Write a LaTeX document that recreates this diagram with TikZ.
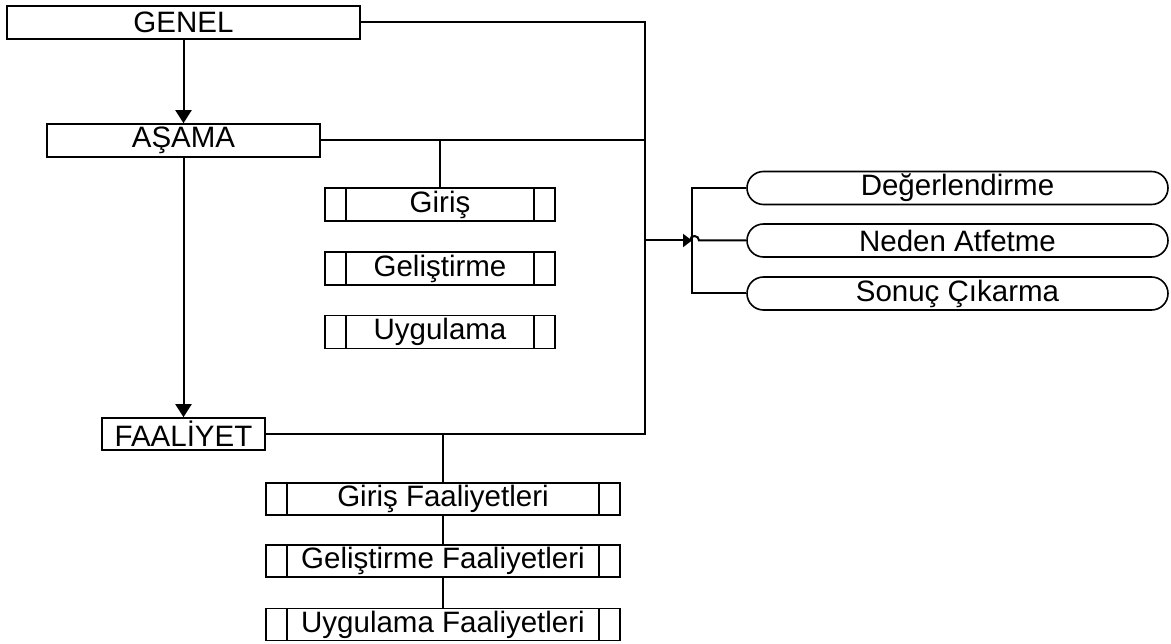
\documentclass[tikz,border=0pt]{standalone}
\usepackage{fontspec}
\setmainfont{Liberation Sans}
\usetikzlibrary{arrows.meta}

\tikzset{
  box/.style = {draw, line width = 1.6pt, inner sep = 0pt, minimum height = 33pt,
    font = \fontsize{29.5}{34}\selectfont},
  subbox/.style = {box, path picture = {
      \draw [line width = 1.6pt] ([xshift = 21pt]path picture bounding box.north west)
        -- ([xshift = 21pt]path picture bounding box.south west);
      \draw [line width = 1.6pt] ([xshift = -21pt]path picture bounding box.north east)
        -- ([xshift = -21pt]path picture bounding box.south east);}},
  roundbox/.style = {box, rounded corners = 16.5pt, minimum width = 421pt},
  link/.style = {line width = 2pt},
  tip/.style = {-{Triangle[length = 13pt, width = 16pt]}},
  smalltip/.style = {-{Triangle[length = 9pt, width = 13pt]}}
}

\begin{document}
\begin{tikzpicture}[x = 1pt, y = -1pt]
  \useasboundingbox (0, 0) rectangle (1171, 644);

  % left column
  \node [box, minimum width = 353pt] (genel) at (183.5, 22.5) {GENEL};
  \node [box, minimum width = 273pt] (asama) at (183.5, 140.5) {AŞAMA};
  \node [box, minimum width = 163pt, minimum height = 32pt] (faaliyet) at (183.5, 434) {FAALİYET};

  % stages
  \node [subbox, minimum width = 230pt] (giris) at (440, 204.5) {Giriş};
  \node [subbox, minimum width = 230pt] (gelistirme) at (440, 268.5) {Geliştirme};
  \node [subbox, minimum width = 230pt] (uygulama) at (440, 332) {Uygulama};

  % activities
  \node [subbox, minimum width = 354pt, minimum height = 32pt] (girisf) at (443, 499) {Giriş Faaliyetleri};
  \node [subbox, minimum width = 354pt, minimum height = 32pt] (gelistirmef) at (443, 561) {Geliştirme Faaliyetleri};
  \node [subbox, minimum width = 354pt, minimum height = 32pt] (uygulamaf) at (443, 624.5) {Uygulama Faaliyetleri};

  % right column
  \node [roundbox] (deger) at (957.5, 188) {Değerlendirme};
  \node [roundbox] (neden) at (957.5, 240.5) {Neden Atfetme};
  \node [roundbox] (sonuc) at (957.5, 293.5) {Sonuç Çıkarma};

  \coordinate (bus) at (645, 0);
  \coordinate (fork) at (692, 240.5);

  \draw [link, tip] (genel) -- (asama);
  \draw [link, tip] (asama) -- (faaliyet);

  \draw [link] (genel.east) -| (bus |- faaliyet.east) -- (faaliyet.east);
  \draw [link] (asama.east) -- (bus |- asama.east);
  \draw [link] (giris.north |- asama.east) -- (giris.north);
  \draw [link] (girisf.north |- faaliyet.east) -- (girisf.north);
  \draw [link] (girisf) -- (gelistirmef);
  \draw [link] (gelistirmef) -- (uygulamaf);

  \draw [link, smalltip] (bus |- fork) -- (fork);
  \draw [link] ([xshift = -2pt]fork) arc (180:360:4.5) -- (neden.west);
  \draw [link] (deger.west) -- (deger.west -| fork) -- (sonuc.west -| fork) -- (sonuc.west);
\end{tikzpicture}
\end{document}
